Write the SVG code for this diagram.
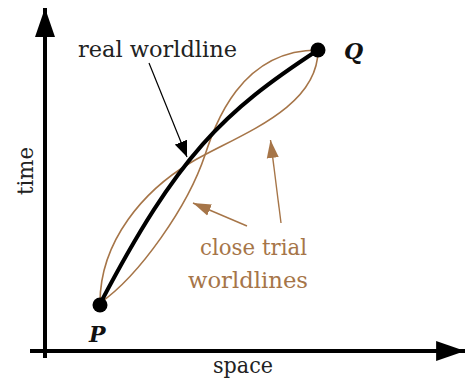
<svg xmlns="http://www.w3.org/2000/svg" width="468" height="381" viewBox="0 0 468 381">
<style>
.lbl{font-family:"DejaVu Serif","Liberation Serif",serif;font-size:22px;fill:#222}
.br{fill:#a67548}
.pt{font-family:"DejaVu Serif","Liberation Serif",serif;font-size:22px;font-style:italic;font-weight:bold;fill:#111}
.trial{fill:none;stroke:#a67548;stroke-width:1.6}
.real{fill:none;stroke:#000;stroke-width:4;stroke-linecap:round}
.axis{fill:none;stroke:#000;stroke-width:4}
</style>
<defs>
<marker id="axHead" markerUnits="userSpaceOnUse" markerWidth="30" markerHeight="20" refX="26" refY="9" orient="auto" viewBox="0 0 26 18">
<path d="M0,0 L26,9 L0,18 z" fill="#000"/>
</marker>
<marker id="blkHead" markerUnits="userSpaceOnUse" markerWidth="16" markerHeight="14" refX="16" refY="6.5" orient="auto" viewBox="0 0 16 13">
<path d="M0,0 L16,6.5 L0,13 z" fill="#000"/>
</marker>
<marker id="brHead" markerUnits="userSpaceOnUse" markerWidth="18" markerHeight="14" refX="18" refY="6" orient="auto" viewBox="0 0 18 12">
<path d="M0,0 L18,6 L0,12 z" fill="#a67548"/>
</marker>
</defs>
<g id="axes">
<line class="axis" x1="45" y1="358" x2="45" y2="8" marker-end="url(#axHead)"/>
<line class="axis" x1="30" y1="351" x2="465" y2="351" marker-end="url(#axHead)"/>
<text class="lbl" transform="translate(33,195) rotate(-90)" textLength="48" lengthAdjust="spacingAndGlyphs">time</text>
<text class="lbl" x="213" y="373" textLength="60" lengthAdjust="spacingAndGlyphs">space</text>
</g>
<g id="connectors">
<path id="trialA" class="trial" d="M100,303 C100,240 145,190 190,163 C235,136 318,110 318,50"/>
<path id="trialB" class="trial" d="M100,303 C140,275 188,206 205,155 C215,125 240,50 318,50"/>
<path id="realLine" class="real" d="M100,304 C178,155 223,112 318,50"/>
<line x1="149" y1="63" x2="187" y2="157" stroke="#000" stroke-width="1.2" marker-end="url(#blkHead)"/>
<line x1="281" y1="223" x2="270.5" y2="140" stroke="#a67548" stroke-width="1.4" marker-end="url(#brHead)"/>
<line x1="247" y1="226" x2="193" y2="203" stroke="#a67548" stroke-width="1.4" marker-end="url(#brHead)"/>
</g>
<g id="nodeP">
<circle cx="100" cy="305" r="7.5" fill="#000"/>
<text class="pt" x="89" y="342">P</text>
</g>
<g id="nodeQ">
<circle cx="318" cy="50" r="7.5" fill="#000"/>
<text class="pt" x="344" y="59">Q</text>
</g>
<g id="labelReal">
<text class="lbl" x="78" y="57" textLength="159" lengthAdjust="spacingAndGlyphs">real worldline</text>
</g>
<g id="labelTrial">
<text class="lbl br" x="200" y="255" textLength="107" lengthAdjust="spacingAndGlyphs">close trial</text>
<text class="lbl br" x="188" y="288" textLength="120" lengthAdjust="spacingAndGlyphs">worldlines</text>
</g>
</svg>
